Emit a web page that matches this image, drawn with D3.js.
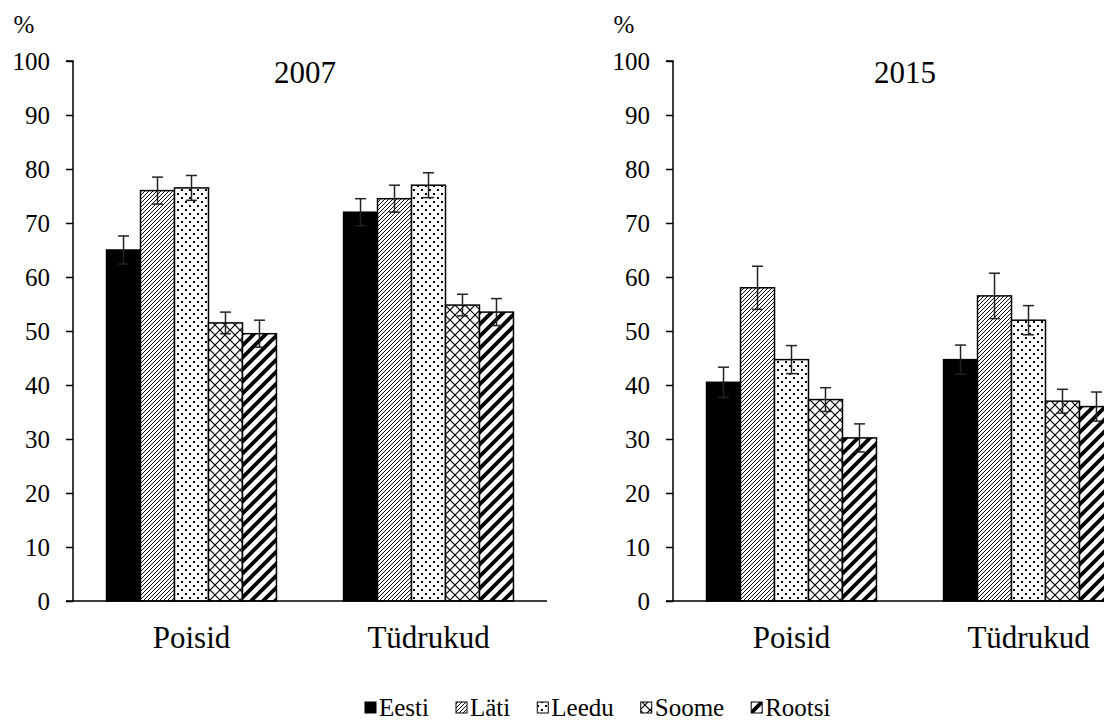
<!DOCTYPE html>
<html><head><meta charset="utf-8">
<script src="https://cdn.jsdelivr.net/npm/d3@7"></script>
<style>body{margin:0;background:#fff}svg{display:block}text{font-family:"Liberation Serif","Times New Roman",serif;fill:#000}</style>
</head><body><svg id="c" width="1104" height="720"></svg>
<script>
const categories = ["Poisid","Tüdrukud"];
const countries = ["Eesti","Läti","Leedu","Soome","Rootsi"];
const years = ["2007","2015"];
const values2007 = [[65,76,76.5,51.5,49.5],[72,74.5,77,54.8,53.5]];
const errors2007 = [[2.6,2.5,2.3,2,2.5],[2.5,2.5,2.3,2,2.5]];
const values2015 = [[40.5,58,44.7,37.3,30.2],[44.7,56.5,52,37,36]];
const errors2015 = [[2.8,4,2.6,2.2,2.6],[2.7,4.2,2.7,2.2,2.7]];
const yTicks = [0,10,20,30,40,50,60,70,80,90,100];

const svg = d3.select("#c");
const defs = svg.append("defs");
function pat(id,w,h,draw){const p=defs.append("pattern").attr("id",id).attr("patternUnits","userSpaceOnUse").attr("width",w).attr("height",h);p.append("rect").attr("width",w).attr("height",h).attr("fill","#fff");draw(p);}
pat("p-lati",4,4,p=>{p.append("path").attr("d","M-1,1 L1,-1 M0,4 L4,0 M3,5 L5,3").attr("stroke","#000").attr("stroke-width",0.95);});
pat("p-leedu",8,8,p=>{p.append("rect").attr("x",1).attr("y",1).attr("width",2).attr("height",2).attr("fill","#000");p.append("rect").attr("x",5).attr("y",5).attr("width",2).attr("height",2).attr("fill","#000");});
pat("p-soome",10,10,p=>{p.append("path").attr("d","M0,0 L10,10 M10,0 L0,10").attr("stroke","#000").attr("stroke-width",1.2);});
pat("p-rootsi",12,12,p=>{p.append("path").attr("d","M-3,3 L3,-3 M0,12 L12,0 M9,15 L15,9").attr("stroke","#000").attr("stroke-width",3.8);});
const fills = ["#000","url(#p-lati)","url(#p-leedu)","url(#p-soome)","url(#p-rootsi)"];

const y = d3.scaleLinear().domain([0,100]).range([601,61]);
const datasets = [[values2007,errors2007],[values2015,errors2015]];

datasets.forEach((ds,pi)=>{
  const ox = pi*600;
  const g = svg.append("g").attr("transform",`translate(${ox},0)`);
  const x0 = d3.scaleBand().domain(categories).range([73,547]).paddingInner(0.283).paddingOuter(0.1415);
  const x1 = d3.scaleBand().domain(countries).range([0,x0.bandwidth()]);
  const ya = g.append("g").attr("transform","translate(73,0)").call(d3.axisLeft(y).tickValues(yTicks).tickSize(7).tickPadding(16));
  ya.select(".domain").attr("stroke","#000").attr("stroke-width",1.5).attr("d","M-7,61H0V601");
  ya.selectAll(".tick line").attr("stroke","#000").attr("stroke-width",1.5);
  ya.selectAll(".tick text").style("font-size","25px").style("font-family","Liberation Serif");
  g.append("text").attr("x",24).attr("y",33).attr("text-anchor","middle").style("font-size","25px").text("%");
  g.append("text").attr("x",305).attr("y",83).attr("text-anchor","middle").style("font-size","31px").text(years[pi]);
  categories.forEach((c,ci)=>{
    countries.forEach((k,ki)=>{
      const v = ds[0][ci][ki];
      const bx = x0(c)+x1(k);
      g.append("rect").attr("x",bx).attr("y",y(v)).attr("width",x1.bandwidth()).attr("height",y(0)-y(v))
        .attr("fill",fills[ki]).attr("stroke","#000").attr("stroke-width",1.5);
    });
  });
  categories.forEach((c,ci)=>{
    countries.forEach((k,ki)=>{
      const v = ds[0][ci][ki], e = ds[1][ci][ki];
      const cx = x0(c)+x1(k)+x1.bandwidth()/2;
      const eg = g.append("g").attr("stroke","#222").attr("stroke-width",1.5);
      eg.append("line").attr("x1",cx).attr("x2",cx).attr("y1",y(v+e)).attr("y2",y(v-e));
      eg.append("line").attr("x1",cx-5.5).attr("x2",cx+5.5).attr("y1",y(v+e)).attr("y2",y(v+e));
      eg.append("line").attr("x1",cx-5.5).attr("x2",cx+5.5).attr("y1",y(v-e)).attr("y2",y(v-e));
    });
  });
  const xa = g.append("g").attr("transform","translate(0,601)").call(d3.axisBottom(x0).tickSize(0).tickPadding(25));
  xa.select(".domain").attr("stroke","#000").attr("stroke-width",1.5).attr("d","M66,0H"+(pi===1?600:547));
  xa.selectAll(".tick text").style("font-size","31px").style("font-family","Liberation Serif");
});

const lg = svg.append("g");
let lx = 365;
countries.forEach((k,i)=>{
  lg.append("rect").attr("x",lx).attr("y",702).attr("width",11).attr("height",11).attr("fill",fills[i]).attr("stroke","#000").attr("stroke-width",1);
  const t = lg.append("text").attr("x",lx+14).attr("y",716).style("font-size","25px").text(k);
  lx += 14 + t.node().getComputedTextLength() + 27;
});
</script></body></html>
